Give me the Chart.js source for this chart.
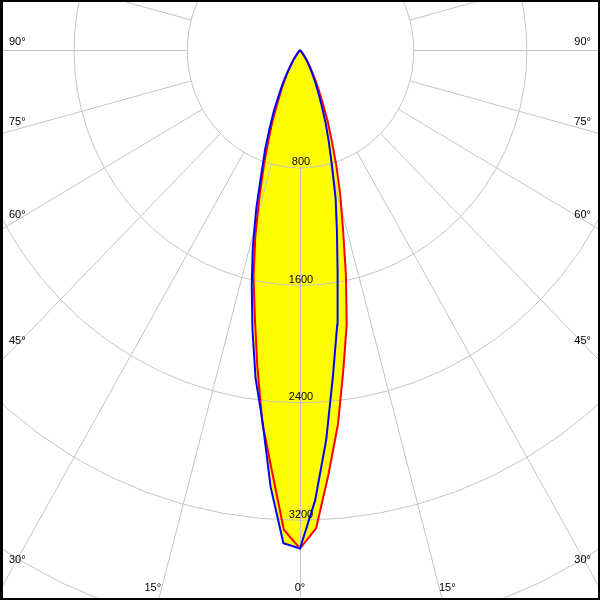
<!DOCTYPE html>
<html>
<head>
<meta charset="utf-8">
<script src="https://cdn.jsdelivr.net/npm/chart.js@4.4.1/dist/chart.umd.min.js"></script>
<style>
  html, body { margin: 0; padding: 0; background: #fff; }
  canvas { display: block; }
</style>
</head>
<body>
<canvas id="ldc" width="600" height="600"></canvas>
<script>
// gamma angles (deg) and intensities (cd)
const gammas = [0, 2, 4, 6, 8, 10, 12, 14, 16, 18, 20, 22, 24, 26, 28, 30, 32, 34, 36, 38, 40, 42];
const c0   = [3396, 3260, 2895, 2565, 2200, 1900, 1560, 1255, 1035, 835, 655, 520, 390, 300, 230, 170, 125, 85, 50, 25, 10, 0];
const c180 = [3396, 3270, 2868, 2550, 2170, 1840, 1580, 1305, 1040, 825, 650, 515, 385, 300, 230, 170, 125, 85, 50, 25, 10, 0];
const c90  = [3396, 3070, 2660, 2230, 1890, 1530, 1255, 1040, 820, 660, 530, 410, 320, 250, 190, 145, 115, 85, 55, 30, 12, 0];
const c270 = [3396, 3362, 2982, 2540, 2257, 1935, 1640, 1378, 1120, 880, 722, 570, 453, 340, 260, 190, 130, 85, 50, 25, 10, 0];

// grid ticks
const ringTicks = [800, 1600, 2400, 3200, 4000];
const angleTicks = [90, 75, 60, 45, 30, 15, 0];
const angleLabels = ['90°', '75°', '60°', '45°', '30°', '15°', '0°'];

const rad = d => d * Math.PI / 180;

// closed loop: left half (C180 / C270) from the top down, then right half back up
function lobe(left, right) {
    const pts = [];
    for (let i = gammas.length - 1; i >= 0; i--) {
        const t = rad(gammas[i]);
        pts.push({ x: -left[i] * Math.sin(t), y: -left[i] * Math.cos(t) });
    }
    for (let i = 1; i < gammas.length; i++) {
        const t = rad(gammas[i]);
        pts.push({ x: right[i] * Math.sin(t), y: -right[i] * Math.cos(t) });
    }
    return pts;
}

const FONT = '11px "Liberation Sans", Arial, sans-serif';

// polar grid: rings, spokes and their labels, drawn with the x/y scales
const polarGrid = {
    id: 'polarGrid',
    beforeDatasetsDraw(chart) {
        const { ctx, scales: { x, y } } = chart;
        ctx.save();
        ctx.strokeStyle = '#c4c4c4';
        ctx.lineWidth = 1;
        ringTicks.forEach(r => {
            ctx.beginPath();
            for (let a = 0; a <= 360; a += 5) {
                const px = x.getPixelForValue(r * Math.sin(rad(a))) + 0.5;
                const py = y.getPixelForValue(-r * Math.cos(rad(a))) + 0.5;
                if (a === 0) ctx.moveTo(px, py); else ctx.lineTo(px, py);
            }
            ctx.stroke();
        });
        // spokes every 15 deg, starting at the first ring
        const rIn = ringTicks[0], rOut = 8000;
        for (let a = 0; a < 360; a += 15) {
            const s = Math.sin(rad(a)), c = Math.cos(rad(a));
            ctx.beginPath();
            ctx.moveTo(x.getPixelForValue(rIn * s) + 0.5, y.getPixelForValue(-rIn * c) + 0.5);
            ctx.lineTo(x.getPixelForValue(rOut * s) + 0.5, y.getPixelForValue(-rOut * c) + 0.5);
            ctx.stroke();
        }
        ctx.restore();
    },
    afterDatasetsDraw(chart) {
        const { ctx, scales: { x, y }, width, height } = chart;
        const cx = x.getPixelForValue(0), cy = y.getPixelForValue(0);
        const sx = x.getPixelForValue(1) - cx;
        const sy = cy - y.getPixelForValue(1);
        ctx.save();
        ctx.font = FONT;
        ctx.fillStyle = '#000';
        ctx.textBaseline = 'middle';

        // intensity labels along the 0 deg spoke
        ctx.textAlign = 'center';
        ringTicks.forEach(r => {
            ctx.fillText(String(r), cx + 1, y.getPixelForValue(-r) - 5);
        });

        // angle labels where the spokes leave the frame
        angleTicks.forEach((g, i) => {
            const t = rad(g);
            const txt = angleLabels[i];
            if (g >= 30) {
                const k = (cx - 12) / (Math.sin(t) * sx);
                const ly = cy + k * Math.cos(t) * sy - 8;
                ctx.textAlign = 'left';
                ctx.fillText(txt, 9, ly);
                ctx.textAlign = 'right';
                ctx.fillText(txt, width - 9, ly);
            } else {
                const ly = height - 12;
                const dx = (ly - cy) / (Math.cos(t) * sy) * Math.sin(t) * sx;
                if (g === 0) {
                    ctx.textAlign = 'center';
                    ctx.fillText(txt, cx, ly);
                } else {
                    ctx.textAlign = 'right';
                    ctx.fillText(txt, cx - dx, ly);
                    ctx.textAlign = 'left';
                    ctx.fillText(txt, cx + dx, ly);
                }
            }
        });
        ctx.restore();
    },
    afterDraw(chart) {
        const { ctx, width, height } = chart;
        ctx.save();
        ctx.strokeStyle = '#000';
        ctx.lineWidth = 2;
        ctx.strokeRect(1, 1, width - 2, height - 2);
        ctx.fillStyle = '#000';
        ctx.fillRect(0, 0, 3, height);
        ctx.restore();
    }
};

new Chart(document.getElementById('ldc'), {
    type: 'scatter',
    data: {
        datasets: [{
            label: 'C90 - C270',
            data: lobe(c270, c90),
            showLine: true,
            borderColor: '#0000ff',
            borderWidth: 2,
            backgroundColor: '#ffff00',
            fill: 'shape',
            pointRadius: 0,
            tension: 0
        }, {
            label: 'C0 - C180',
            data: lobe(c180, c0),
            showLine: true,
            borderColor: '#ff0000',
            borderWidth: 2,
            backgroundColor: '#ffff00',
            fill: 'shape',
            pointRadius: 0,
            tension: 0
        }]
    },
    options: {
        responsive: false,
        animation: false,
        events: [],
        layout: { padding: 0 },
        scales: {
            x: { type: 'linear', display: false, min: -2120, max: 2120 },
            y: { type: 'linear', display: false, min: -3746.6, max: 340.6 }
        },
        plugins: {
            legend: { display: false },
            tooltip: { enabled: false },
            filler: { drawTime: 'beforeDatasetsDraw' }
        }
    },
    plugins: [polarGrid]
});
</script>
</body>
</html>
